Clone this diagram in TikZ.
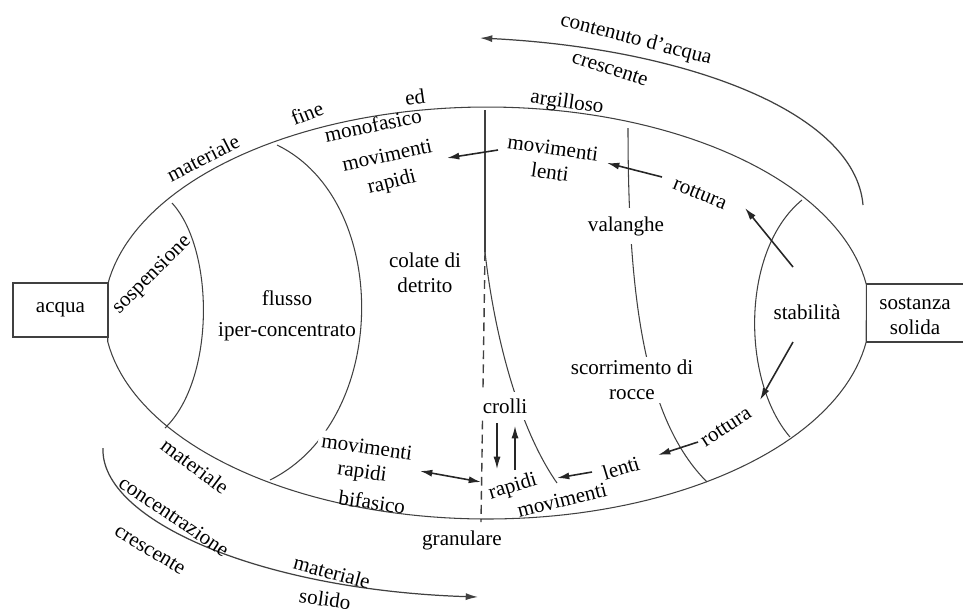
\documentclass[tikz,border=0pt]{standalone}
\usepackage{fontspec}
\setmainfont{Liberation Serif}
\usetikzlibrary{arrows.meta}

\begin{document}
\begin{tikzpicture}[x=0.02cm, y=-0.02cm,
        font=\fontsize{12}{14}\selectfont,
        line/.style={draw=black!75, line width=0.6pt},
        arr/.style={-{Latex[length=7pt,width=4pt]}, line width=0.9pt, black!85},
        cover/.style={fill=white, inner sep=2pt},
        lbl/.style={inner sep=0pt}]
                \useasboundingbox (0,0) rectangle (963,613);

                % contorno
                \draw[line] plot[domain=8:172, samples=90] ({487+383*cos(\x)},{313-206*sin(\x)})
                    -- plot[domain=188:352, samples=90] ({487+383*cos(\x)},{313-206*sin(\x)}) -- cycle;

                % linee interne
                \draw[line] (172,203) .. controls (215,250) and (215,380) .. (165,428);
                \draw[line] (277,145) .. controls (391,200) and (391,420) .. (270,480);
                \draw[line, line width=0.8pt] (485,110) -- (485,252);
                \draw[line, line width=0.8pt, dash pattern=on 5pt off 3pt] (485,252) -- (481,522);
                \draw[line] (485,252) .. controls (495,340) and (520,430) .. (557,483);
                \draw[line] (628,128) .. controls (628,300) and (645,420) .. (707,482);
                \draw[line] (802,200) .. controls (741,250) and (741,380) .. (790,437);

                % scatole
                \node[draw=black!75, line width=0.6pt, minimum width=1.9cm, minimum height=1.08cm] (acqua) at (60.5,310) {acqua};
                \draw[line] (866,284) -- (963,284);
                \draw[line] (866,342) -- (963,342);
                \node[align=center] (solida) at (915,316) {sostanza\\solida};

                % testi
                \node[lbl, rotate=27] (mat1) at (203,158) {materiale};
                \node[lbl, rotate=22] (fine) at (307,113) {fine};
                \node[lbl, rotate=8] (ed) at (415,97) {ed};
                \node[lbl, rotate=-8] (argilloso) at (567,103) {argilloso};
                \node[lbl, rotate=12] (monofasico) at (373,125) {monofasico};
                \node[lbl, rotate=12] (movR) at (387,155) {movimenti};
                \node[lbl, rotate=14] (rapR) at (392,183) {rapidi};
                \node[lbl, rotate=-8] (movL) at (553,148) {movimenti};
                \node[lbl, rotate=-8] (lenL) at (550,172) {lenti};
                \node[lbl, rotate=-22] (rottura1) at (700,194) {rottura};
                \node[cover, inner ysep=5pt] (valanghe) at (626,226) {valanghe};
                \node[align=center] (colate) at (425,273) {colate di\\detrito};
                \node (flusso) at (287,298) {flusso};
                \node (iper) at (287,332) {iper-concentrato};
                \node[lbl, rotate=45] (sosp) at (152,275) {sospensione};
                \node (stab) at (807,312) {stabilità};
                \node[cover, align=center] (scorr) at (632,380) {scorrimento di\\rocce};
                \node[cover, inner ysep=4pt] (crolli) at (505,406) {crolli};
                \node[lbl, rotate=17] (rapB) at (513,487) {rapidi};
                \node[lbl, rotate=14] (movB) at (562,500) {movimenti};
                \node[lbl, rotate=17] (lenB) at (621,468) {lenti};
                \node[lbl, rotate=33] (rottura2) at (726,427) {rottura};
                \node[cover, rotate=-8] (movS) at (367,447) {movimenti};
                \node[lbl, rotate=-8] (rapS) at (362,473) {rapidi};
                \node[lbl, rotate=-8] (bif) at (372,502) {bifasico};
                \node[lbl, rotate=-37] (mat2) at (195,466) {materiale};
                \node (granulare) at (462,540) {granulare};

                % frecce esterne
                \coordinate (ts) at (863,205);
                \coordinate (te) at (480,38);
                \draw[arr, black!75, line width=0.7pt] (ts) .. controls (855,110) and (680,48) .. (te);
                \node[lbl, rotate=-14.5] (contenuto) at (636,40) {contenuto d'acqua};
                \node[lbl, rotate=-18] (cresc1) at (610,69) {crescente};

                \coordinate (bs) at (103,448);
                \coordinate (be) at (478,597);
                \draw[arr, black!75, line width=0.7pt] (bs) .. controls (100,520) and (260,590) .. (be);
                \node[lbl, rotate=-34] (conc) at (174,516) {concentrazione};
                \node[lbl, rotate=-31] (cresc2) at (150,550) {crescente};
                \node[lbl, rotate=-15] (mat3) at (332,572) {materiale};
                \node[lbl, rotate=-8] (solido) at (325,599) {solido};

                % frecce interne
                \coordinate (a1) at (498,150);  \coordinate (b1) at (447,158);
                \coordinate (a2) at (662,177);  \coordinate (b2) at (607,163);
                \coordinate (a3) at (793,267);  \coordinate (b3) at (745,208);
                \coordinate (a4) at (793,342);  \coordinate (b4) at (760,400);
                \coordinate (a5) at (698,442);  \coordinate (b5) at (658,455);
                \coordinate (a6) at (592,472);  \coordinate (b6) at (557,478);
                \coordinate (a7) at (420,471);  \coordinate (b7) at (481,482);
                \coordinate (a8) at (497,423);  \coordinate (b8) at (497,469);
                \coordinate (a9) at (515,470);  \coordinate (b9) at (515,426);
                \draw[arr] (a1) -- (b1);
                \draw[arr] (a2) -- (b2);
                \draw[arr] (a3) -- (b3);
                \draw[arr] (a4) -- (b4);
                \draw[arr] (a5) -- (b5);
                \draw[arr] (a6) -- (b6);
                \draw[arr, {Latex[length=7pt,width=4pt]}-{Latex[length=7pt,width=4pt]}] (a7) -- (b7);
                \draw[arr, line width=0.7pt] (a8) -- (b8);
                \draw[arr, line width=0.7pt] (a9) -- (b9);
            \end{tikzpicture}
\end{document}
